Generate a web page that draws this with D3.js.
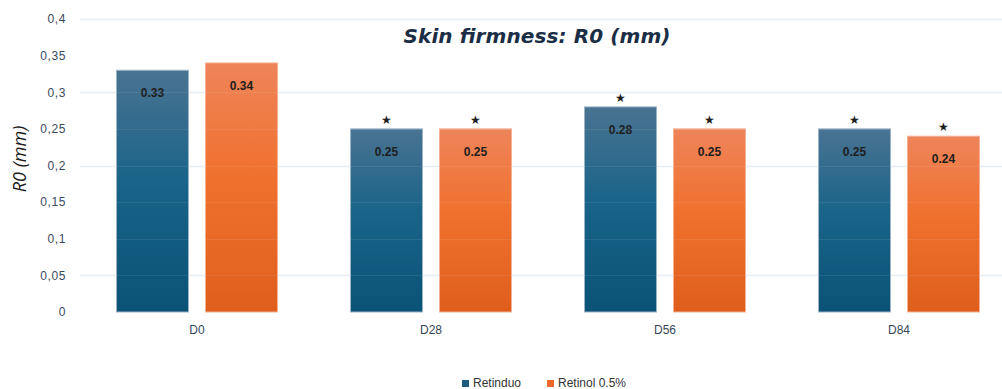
<!DOCTYPE html>
<html><head><meta charset="utf-8">
<script src="https://cdn.jsdelivr.net/npm/d3@7"></script>
<style>
html,body{margin:0;padding:0;background:#fff;}
svg{display:block;}
text{font-family:"Open Sans","Liberation Sans",sans-serif;}
</style></head>
<body>
<svg id="c" width="1002" height="389"></svg>
<script>
const categories = ["D0","D28","D56","D84"];
const seriesNames = ["Retinduo","Retinol 0.5%"];
const retinduo = [0.33,0.25,0.28,0.25];
const retinol = [0.34,0.25,0.25,0.24];
const retinduoStar = [false,true,true,true];
const retinolStar = [false,true,true,true];
const yTicks = [0,0.05,0.1,0.15,0.2,0.25,0.3,0.35,0.4];
const yTickLabels = ["0","0,05","0,1","0,15","0,2","0,25","0,3","0,35","0,4"];
const gridValues = [0.05,0.2,0.3,0.4];
const valueLabels = [["0.33","0.25","0.28","0.25"],["0.34","0.25","0.25","0.24"]];

const svg = d3.select("#c");
const defs = svg.append("defs");
const g1 = defs.append("linearGradient").attr("id","gB").attr("x1",0).attr("y1",0).attr("x2",0).attr("y2",1);
g1.append("stop").attr("offset","0%").attr("stop-color","#4a7392");
g1.append("stop").attr("offset","45%").attr("stop-color","#1a6489");
g1.append("stop").attr("offset","100%").attr("stop-color","#0a5276");
const g2 = defs.append("linearGradient").attr("id","gO").attr("x1",0).attr("y1",0).attr("x2",0).attr("y2",1);
g2.append("stop").attr("offset","0%").attr("stop-color","#ee845a");
g2.append("stop").attr("offset","45%").attr("stop-color","#f0712e");
g2.append("stop").attr("offset","100%").attr("stop-color","#df5e1c");

const y = d3.scaleLinear().domain([0,0.4]).range([312,19]);
const x0 = d3.scaleBand().domain(categories).range([80,1016]).padding(0);
const x1 = d3.scaleBand().domain(seriesNames).range([36.5,197.5]).paddingInner(0.191).paddingOuter(0);

// gridlines
svg.append("g").selectAll("line").data(gridValues).join("line")
  .attr("x1",80).attr("x2",1002)
  .attr("y1",d=>Math.round(y(d))+0.5).attr("y2",d=>Math.round(y(d))+0.5)
  .attr("stroke","#e6ebf3").attr("stroke-width",1.5);

// y axis tick labels
const yAxis = d3.axisLeft(y).tickValues(yTicks).tickFormat((d,i)=>yTickLabels[i]).tickSize(0).tickPadding(0);
const ya = svg.append("g").attr("transform","translate(66,0)").call(yAxis);
ya.select(".domain").remove();
ya.selectAll("text").attr("fill","#3a4a5e").style("font-size","12px").style("font-family","'Liberation Sans',Arial,sans-serif").style("letter-spacing","0.6px");

// x axis labels
const xAxis = d3.axisBottom(x0).tickSize(0).tickPadding(0);
const xa = svg.append("g").attr("transform","translate(0,325)").call(xAxis);
xa.select(".domain").remove();
xa.selectAll("text").attr("fill","#35465a").style("font-size","12px").style("font-family","'Liberation Sans',Arial,sans-serif");

const data = [retinduo, retinol];
const stars = [retinduoStar, retinolStar];
const fills = ["url(#gB)","url(#gO)"];
const strokes = ["#9ab3c6","#f4b196"];

seriesNames.forEach((s,si)=>{
  const g = svg.append("g");
  g.selectAll("rect").data(categories).join("rect")
    .attr("x",c=>x0(c)+x1(s))
    .attr("width",x1.bandwidth())
    .attr("y",(c,i)=>y(data[si][i]))
    .attr("height",(c,i)=>y(0)-y(data[si][i]))
    .attr("fill",fills[si])
    .attr("stroke",strokes[si]).attr("stroke-width",1);
  g.selectAll("text.v").data(categories).join("text").attr("class","v")
    .attr("x",c=>x0(c)+x1(s)+x1.bandwidth()/2)
    .attr("y",(c,i)=>y(data[si][i])+27)
    .attr("text-anchor","middle")
    .attr("fill","#1e1e1e")
    .style("font-size","12px").style("font-weight","bold")
    .style("font-family","'Liberation Sans',Arial,sans-serif")
    .text((c,i)=>valueLabels[si][i]);
  g.selectAll("text.s").data(categories.filter((c,i)=>stars[si][i])).join("text").attr("class","s")
    .attr("x",c=>x0(c)+x1(s)+x1.bandwidth()/2)
    .attr("y",c=>y(data[si][categories.indexOf(c)])-5)
    .attr("text-anchor","middle")
    .attr("fill","#1e1e1e")
    .style("font-size","12px")
    .style("font-family","'DejaVu Sans',sans-serif")
    .text("★");
});

// gridline overlays on bars (faint)
svg.append("g").selectAll("line").data(yTicks.filter(d=>d>0)).join("line")
  .attr("x1",80).attr("x2",1002)
  .attr("y1",d=>Math.round(y(d))+0.5).attr("y2",d=>Math.round(y(d))+0.5)
  .attr("stroke","#ffffff").attr("stroke-opacity",0.08).attr("stroke-width",1);

// title
svg.append("text").attr("x",537).attr("y",43).attr("text-anchor","middle")
  .attr("fill","#1b2e45").style("font-size","20px").style("font-weight","bold").style("font-style","italic")
  .style("font-family","'DejaVu Sans',sans-serif")
  .attr("textLength",267).attr("lengthAdjust","spacing")
  .text("Skin firmness: R0 (mm)");

// y label
svg.append("text").attr("transform","translate(26,159) rotate(-90)").attr("text-anchor","middle")
  .attr("fill","#1c1c1c").style("font-size","18px").style("font-style","italic")
  .style("font-family","'Open Sans',sans-serif")
  .text("R0 (mm)");

// legend
const legColors = ["#1b5c80","#ee6a2c"];
const legX = [462,547];
seriesNames.forEach((s,i)=>{
  svg.append("rect").attr("x",legX[i]).attr("y",380).attr("width",7).attr("height",7).attr("fill",legColors[i]);
  svg.append("text").attr("x",legX[i]+11).attr("y",387).attr("fill","#333")
    .style("font-size","12px").style("font-family","'Liberation Sans',Arial,sans-serif").text(s);
});
</script>
</body></html>
